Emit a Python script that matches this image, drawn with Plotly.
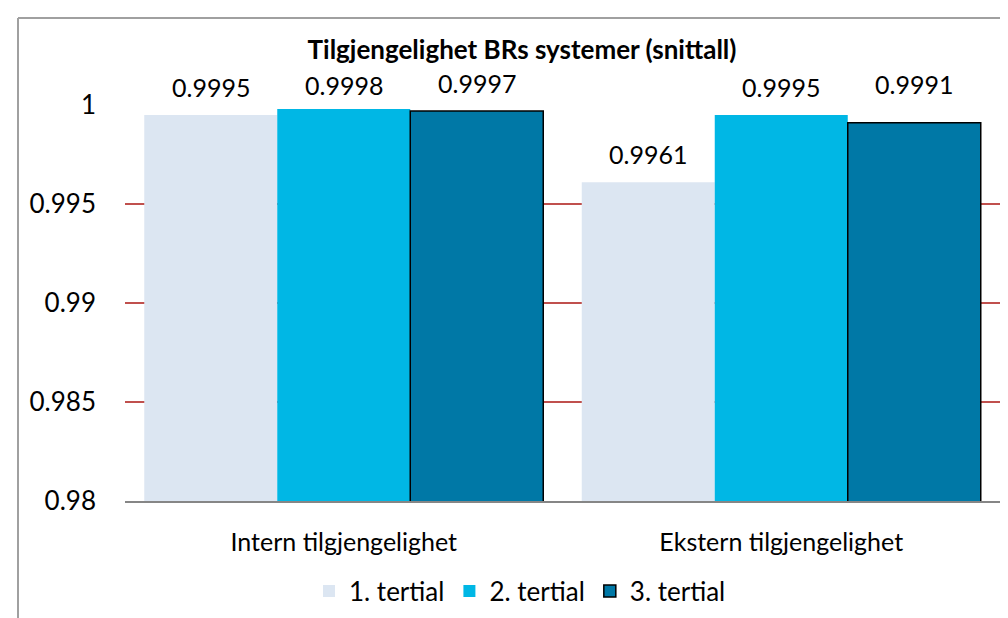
import plotly.graph_objects as go

# ---- data ----
categories = ["Intern tilgjengelighet", "Ekstern tilgjengelighet"]
series_names = ["1. tertial", "2. tertial", "3. tertial"]
tertial_1 = [0.9995, 0.9961]
tertial_2 = [0.9998, 0.9995]
tertial_3 = [0.9997, 0.9991]
y_tick_values = [0.98, 0.985, 0.99, 0.995, 1]
y_tick_labels = ["0.98", "0.985", "0.99", "0.995", "1"]
title_text = "Tilgjengelighet BRs systemer (snittall)"

# ---- styling ----
W, H = 1008, 618
ML, MR, MT, MB = 117, 16, 97, 121
BARGAP = 0.088
FONT = "Lato, 'Open Sans', sans-serif"
FS = 25
colors = ["#DCE6F2", "#00B7E5", "#0078A6"]
outline_w = [0, 0, 1.5]
label_lift = 28
label_nudge = [[0, 0], [-4, 0], [0, 11]]

series = [tertial_1, tertial_2, tertial_3]

fig = go.Figure()
for name, vals, col, lw in zip(series_names, series, colors, outline_w):
    fig.add_trace(go.Bar(
        x=categories, y=vals, name=name,
        marker=dict(color=col, line=dict(color="#000000", width=lw)),
        hoverinfo="skip",
    ))

plot_w = W - ML - MR
bar_px = plot_w / len(categories) * (1 - BARGAP) / len(series)

annotations = []
for i, vals in enumerate(series):
    for j, v in enumerate(vals):
        annotations.append(dict(
            x=categories[j], y=v, xref="x", yref="y",
            text=str(v), showarrow=False,
            xshift=(i - (len(series) - 1) / 2) * bar_px,
            yshift=label_lift + label_nudge[i][j],
            yanchor="middle", xanchor="center",
            font=dict(family=FONT, size=FS, color="#000000"),
        ))


def px_x(p):
    return (p - ML) / plot_w


def px_y(p):
    return (H - MB - p) / (H - MT - MB)


shapes = [
    dict(type="line", xref="paper", yref="paper",
         x0=px_x(10), x1=px_x(1010), y0=px_y(9), y1=px_y(9),
         line=dict(color="#A0A0A0", width=2)),
    dict(type="line", xref="paper", yref="paper",
         x0=px_x(10), x1=px_x(10), y0=px_y(9), y1=px_y(620),
         line=dict(color="#A0A0A0", width=2)),
]

fig.update_layout(
    width=W, height=H,
    margin=dict(l=ML, r=MR, t=MT, b=MB, pad=0),
    paper_bgcolor="#FFFFFF", plot_bgcolor="#FFFFFF",
    barmode="group", bargap=BARGAP, bargroupgap=0,
    font=dict(family=FONT, size=FS, color="#000000"),
    title=dict(text="<b>" + title_text + "</b>",
               xref="container", yref="container",
               x=514 / W, xanchor="center",
               y=1 - 42 / H, yanchor="middle",
               font=dict(family=FONT, size=26, color="#000000")),
    showlegend=True,
    legend=dict(orientation="h", x=px_x(512), xanchor="center",
                y=px_y(588), yanchor="middle",
                font=dict(family=FONT, size=FS + 1, color="#000000"),
                bgcolor="rgba(0,0,0,0)", itemclick=False),
    annotations=annotations,
    shapes=shapes,
)

fig.update_yaxes(
    range=[0.98, 1], tickvals=y_tick_values, ticktext=y_tick_labels,
    showgrid=True, gridcolor="#C0504D", gridwidth=2,
    zeroline=False, showline=False, ticks="",
    ticklabelstandoff=28,
    tickfont=dict(family=FONT, size=FS + 1, color="#000000"),
)
fig.update_xaxes(
    showline=True, linecolor="#868686", linewidth=2,
    ticks="", showgrid=False, ticklabelstandoff=18,
    tickfont=dict(family=FONT, size=FS, color="#000000"),
)

fig.write_html("out.html")
